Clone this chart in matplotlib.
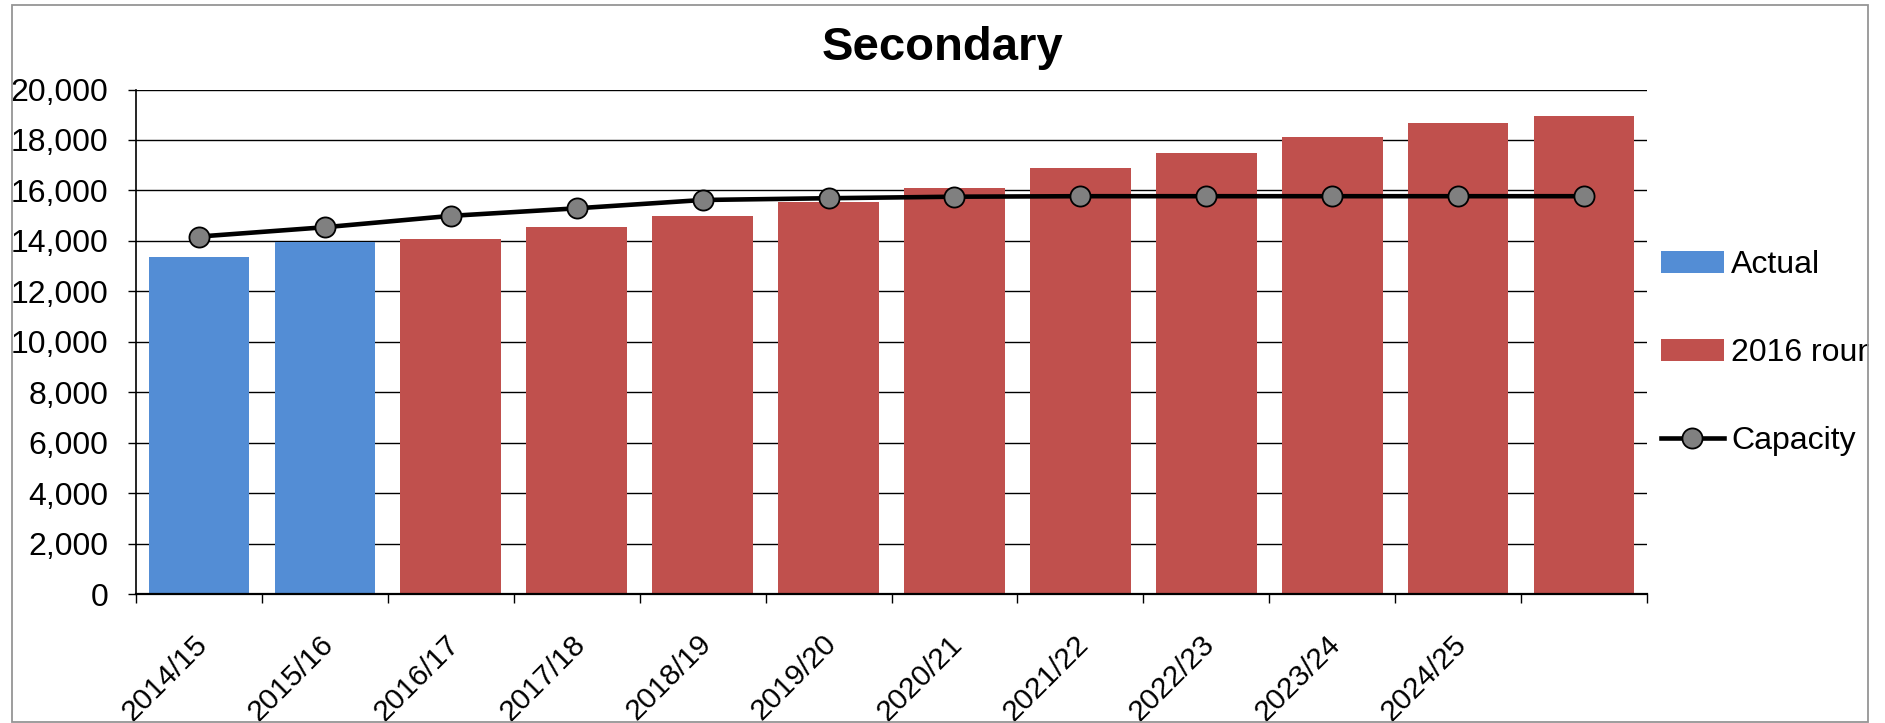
import matplotlib
matplotlib.use("Agg")
import matplotlib.pyplot as plt
import matplotlib.transforms as mtransforms
from matplotlib.patches import Patch, Rectangle
from matplotlib.lines import Line2D
from matplotlib.ticker import FuncFormatter

plt.rcParams["font.family"] = ["Liberation Sans", "DejaVu Sans"]

# School years shown on the x axis (the last year carries no label)
years = ["2014/15", "2015/16", "2016/17", "2017/18", "2018/19", "2019/20",
         "2020/21", "2021/22", "2022/23", "2023/24", "2024/25", ""]

# Actual secondary pupil numbers
actual = [13350, 13950]

# 2016 round projection, from 2016/17 onwards
projection = [14080, 14550, 14990, 15540, 16100, 16890, 17480, 18120, 18670, 18950]

# Secondary school capacity
capacity = [14170, 14540, 14990, 15290, 15620, 15690, 15750, 15770, 15770,
            15770, 15770, 15770]

yticks = [0, 2000, 4000, 6000, 8000, 10000, 12000, 14000, 16000, 18000, 20000]

BLUE = "#538DD5"
RED = "#C0504D"
FS = 23
FS_X = 21.5

W, H = 1885, 723
fig = plt.figure(figsize=(W / 100, H / 100), dpi=100)
fig.patch.set_facecolor("white")
ax = fig.add_axes([136 / W, 1 - 594 / H, (1647 - 136) / W, (594 - 89.5) / H])

x = list(range(len(years)))
n_act = len(actual)
ax.bar(x[:n_act], actual, width=0.8, color=BLUE, zorder=2)
ax.bar(x[n_act:n_act + len(projection)], projection, width=0.8, color=RED, zorder=2)
ax.plot(x, capacity, color="black", lw=3.3, marker="o", markersize=14.5,
        markerfacecolor="#808080", markeredgecolor="black", markeredgewidth=1.3,
        zorder=3, solid_capstyle="butt")

ax.set_xlim(-0.5, len(years) - 0.5)
ax.set_ylim(0, 20000)
ax.set_yticks(yticks)
ax.yaxis.set_major_formatter(FuncFormatter(lambda v, p: f"{int(v):,}"))
ax.yaxis.grid(True, color="black", lw=1.0)
ax.set_axisbelow(True)

for side in ("top", "right"):
    ax.spines[side].set_visible(False)
ax.spines["left"].set_linewidth(1.2)
ax.spines["bottom"].set_linewidth(1.6)

ax.tick_params(axis="y", which="major", length=6, width=1.0, pad=14,
               labelsize=FS, direction="out")

# Tick marks sit between categories; labels sit under the bar centres
ax.set_xticks([i - 0.5 for i in range(len(years) + 1)])
ax.set_xticklabels([])
ax.tick_params(axis="x", which="major", length=6.5, width=1.0, direction="out")
ax.set_xticks(x, minor=True)
ax.set_xticklabels(years, minor=True)
ax.tick_params(axis="x", which="minor", length=0, pad=25.8, labelsize=FS_X)
offset = mtransforms.ScaledTranslation(-0.06, 0, fig.dpi_scale_trans)
for lab in ax.get_xticklabels(minor=True):
    lab.set_rotation(45)
    lab.set_ha("right")
    lab.set_va("top")
    lab.set_rotation_mode("anchor")
    lab.set_transform(lab.get_transform() + offset)

fig.text(0.5, 1 - 60 / H, "Secondary", ha="center", va="baseline",
         fontsize=34, fontweight="bold")

handles = [
    Patch(facecolor=BLUE, edgecolor="none"),
    Patch(facecolor=RED, edgecolor="none"),
    Line2D([], [], color="black", lw=3.3, marker="o", markersize=14.5,
           markerfacecolor="#808080", markeredgecolor="black", markeredgewidth=1.3),
]
fig.legend(handles, ["Actual", "2016 round", "Capacity"],
           loc="center left", bbox_to_anchor=(1661 / W, 1 - 353 / H),
           frameon=False, fontsize=FS, handlelength=1.97, handleheight=0.69,
           labelspacing=1.82, handletextpad=0.22, borderpad=0, borderaxespad=0)

# Chart frame; anything past its right edge is hidden
fig.add_artist(Rectangle((1869 / W, 0), 1 - 1869 / W, 1, transform=fig.transFigure,
                         facecolor="white", edgecolor="none", zorder=20))
fig.add_artist(Rectangle((12 / W, 1 / H), (1868 - 12) / W, (718 - 1) / H,
                         transform=fig.transFigure, facecolor="none",
                         edgecolor="#959595", lw=1.3, zorder=21))

fig.savefig("out.png", dpi=100, facecolor="white")
